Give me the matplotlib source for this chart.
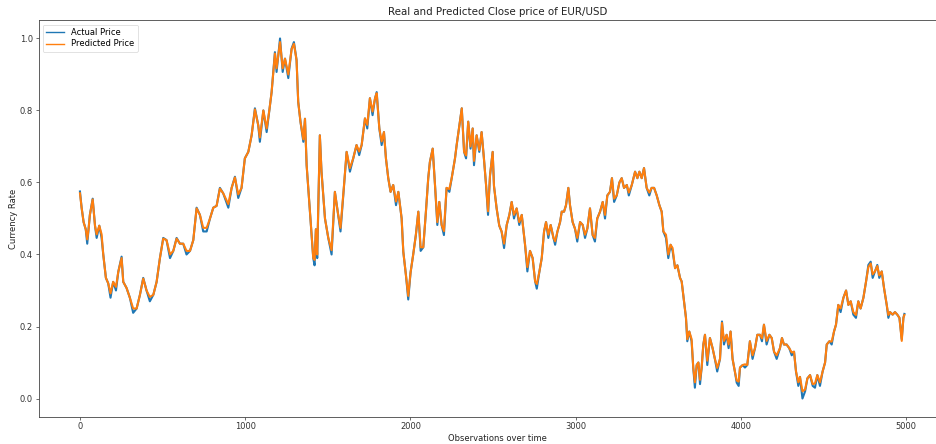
import matplotlib
matplotlib.use("Agg")
import matplotlib.pyplot as plt

obs = [0, 10, 22, 35, 44, 52, 60, 77, 91, 101, 117, 131, 141, 157, 171, 185, 201, 218, 232, 252,
       262, 282, 302, 322, 343, 363, 383, 403, 423, 444, 464, 484, 504, 524, 545, 565, 585, 605, 625, 645,
       666, 686, 706, 726, 746, 767, 787, 807, 827, 847, 867, 898, 918, 938, 958, 978, 998, 1019, 1039, 1059,
       1079, 1089, 1110, 1130, 1146, 1160, 1180, 1190, 1211, 1227, 1241, 1261, 1281, 1295, 1311, 1321, 1335, 1352, 1362, 1372,
       1386, 1398, 1412, 1420, 1428, 1436, 1452, 1462, 1483, 1503, 1523, 1543, 1563, 1577, 1597, 1614, 1634, 1654, 1674, 1690,
       1705, 1725, 1739, 1755, 1771, 1786, 1796, 1812, 1826, 1840, 1852, 1866, 1880, 1896, 1913, 1927, 1947, 1957, 1973, 1987,
       2001, 2017, 2033, 2048, 2062, 2078, 2094, 2108, 2118, 2135, 2149, 2163, 2175, 2189, 2203, 2219, 2236, 2250, 2270, 2280,
       2297, 2311, 2325, 2337, 2350, 2364, 2377, 2385, 2401, 2417, 2431, 2445, 2458, 2470, 2482, 2498, 2506, 2522, 2538, 2552,
       2567, 2583, 2599, 2613, 2627, 2643, 2659, 2674, 2694, 2708, 2724, 2740, 2755, 2765, 2781, 2795, 2809, 2821, 2835, 2849,
       2866, 2876, 2890, 2906, 2916, 2930, 2942, 2956, 2966, 2982, 2996, 3010, 3027, 3043, 3057, 3071, 3087, 3103, 3117, 3131,
       3148, 3164, 3178, 3192, 3208, 3220, 3233, 3249, 3265, 3279, 3293, 3310, 3322, 3340, 3360, 3374, 3386, 3400, 3414, 3430,
       3446, 3460, 3475, 3491, 3507, 3521, 3531, 3547, 3561, 3575, 3587, 3602, 3616, 3632, 3642, 3656, 3668, 3676, 3688, 3702,
       3712, 3722, 3733, 3743, 3753, 3763, 3773, 3783, 3797, 3813, 3829, 3843, 3857, 3874, 3886, 3898, 3914, 3926, 3938, 3950,
       3964, 3975, 3987, 3995, 4011, 4025, 4039, 4055, 4071, 4086, 4100, 4116, 4128, 4140, 4156, 4173, 4187, 4201, 4217, 4237,
       4249, 4261, 4277, 4293, 4308, 4322, 4334, 4348, 4358, 4373, 4389, 4403, 4419, 4435, 4449, 4463, 4479, 4495, 4510, 4520,
       4536, 4550, 4564, 4576, 4590, 4604, 4621, 4637, 4651, 4665, 4681, 4697, 4711, 4725, 4742, 4758, 4772, 4786, 4798, 4812,
       4826, 4838, 4853, 4867, 4883, 4893, 4903, 4919, 4933, 4947, 4960, 4974, 4984, 4990]

actual = [0.575, 0.53, 0.49, 0.47, 0.43, 0.47, 0.51, 0.555, 0.48, 0.446, 0.48, 0.446, 0.40, 0.335, 0.32, 0.28, 0.324, 0.30, 0.352, 0.394,
          0.324, 0.307, 0.28, 0.238, 0.25, 0.288, 0.335, 0.30, 0.27, 0.288, 0.324, 0.39, 0.446, 0.44, 0.39, 0.41, 0.446, 0.43, 0.43, 0.40,
          0.41, 0.44, 0.53, 0.51, 0.464, 0.464, 0.50, 0.53, 0.535, 0.585, 0.57, 0.53, 0.585, 0.616, 0.557, 0.585, 0.667, 0.685, 0.731, 0.806,
          0.759, 0.713, 0.80, 0.74, 0.80, 0.851, 0.962, 0.907, 1.0, 0.907, 0.944, 0.89, 0.972, 0.99, 0.94, 0.824, 0.768, 0.713, 0.777, 0.648,
          0.557, 0.482, 0.39, 0.37, 0.47, 0.39, 0.731, 0.63, 0.50, 0.446, 0.40, 0.574, 0.51, 0.464, 0.585, 0.685, 0.63, 0.667, 0.704, 0.676,
          0.704, 0.778, 0.75, 0.834, 0.787, 0.834, 0.851, 0.75, 0.704, 0.74, 0.667, 0.612, 0.574, 0.593, 0.537, 0.574, 0.50, 0.408, 0.343, 0.275,
          0.35, 0.40, 0.454, 0.519, 0.41, 0.42, 0.519, 0.612, 0.657, 0.694, 0.593, 0.482, 0.546, 0.482, 0.454, 0.585, 0.574, 0.612, 0.667, 0.704,
          0.759, 0.806, 0.685, 0.667, 0.769, 0.694, 0.75, 0.648, 0.731, 0.685, 0.74, 0.667, 0.593, 0.51, 0.62, 0.685, 0.59, 0.528, 0.48, 0.464,
          0.418, 0.482, 0.51, 0.546, 0.50, 0.528, 0.482, 0.51, 0.427, 0.353, 0.41, 0.39, 0.325, 0.305, 0.353, 0.39, 0.464, 0.49, 0.446, 0.482,
          0.446, 0.427, 0.464, 0.49, 0.519, 0.519, 0.537, 0.585, 0.537, 0.49, 0.472, 0.436, 0.49, 0.482, 0.446, 0.472, 0.528, 0.454, 0.436, 0.50,
          0.519, 0.546, 0.50, 0.564, 0.574, 0.612, 0.546, 0.564, 0.60, 0.612, 0.585, 0.593, 0.564, 0.593, 0.63, 0.612, 0.63, 0.612, 0.64, 0.585,
          0.564, 0.585, 0.585, 0.564, 0.537, 0.519, 0.464, 0.446, 0.39, 0.427, 0.41, 0.362, 0.37, 0.335, 0.325, 0.27, 0.224, 0.159, 0.186, 0.159,
          0.086, 0.03, 0.093, 0.10, 0.04, 0.086, 0.15, 0.177, 0.093, 0.168, 0.14, 0.11, 0.075, 0.11, 0.214, 0.15, 0.177, 0.14, 0.186, 0.11,
          0.075, 0.044, 0.035, 0.086, 0.093, 0.086, 0.093, 0.159, 0.11, 0.14, 0.177, 0.177, 0.159, 0.205, 0.15, 0.177, 0.168, 0.13, 0.11, 0.14,
          0.168, 0.15, 0.15, 0.14, 0.12, 0.13, 0.075, 0.035, 0.06, 0.0, 0.02, 0.056, 0.065, 0.035, 0.03, 0.065, 0.035, 0.075, 0.10, 0.15,
          0.159, 0.15, 0.186, 0.205, 0.26, 0.24, 0.28, 0.30, 0.26, 0.27, 0.233, 0.224, 0.27, 0.25, 0.28, 0.325, 0.371, 0.38, 0.335, 0.353,
          0.371, 0.335, 0.353, 0.306, 0.26, 0.224, 0.24, 0.233, 0.24, 0.233, 0.224, 0.165, 0.224, 0.235]

predicted = [0.57, 0.53, 0.49, 0.47, 0.442, 0.47, 0.51, 0.553, 0.48, 0.456, 0.48, 0.456, 0.40, 0.335, 0.32, 0.292, 0.324, 0.31, 0.352, 0.39,
             0.324, 0.307, 0.28, 0.25, 0.25, 0.288, 0.333, 0.30, 0.282, 0.288, 0.324, 0.39, 0.444, 0.44, 0.40, 0.41, 0.444, 0.43, 0.43, 0.41,
             0.41, 0.44, 0.528, 0.51, 0.474, 0.474, 0.50, 0.53, 0.535, 0.583, 0.57, 0.54, 0.585, 0.614, 0.567, 0.585, 0.667, 0.685, 0.731, 0.803,
             0.759, 0.725, 0.80, 0.75, 0.80, 0.851, 0.958, 0.917, 0.99, 0.917, 0.944, 0.90, 0.97, 0.985, 0.94, 0.824, 0.768, 0.72, 0.777, 0.648,
             0.557, 0.482, 0.39, 0.385, 0.47, 0.40, 0.731, 0.63, 0.50, 0.446, 0.412, 0.574, 0.51, 0.474, 0.585, 0.685, 0.64, 0.667, 0.704, 0.686,
             0.704, 0.778, 0.76, 0.834, 0.797, 0.834, 0.848, 0.75, 0.714, 0.74, 0.667, 0.612, 0.574, 0.593, 0.547, 0.574, 0.50, 0.408, 0.343, 0.285,
             0.35, 0.40, 0.454, 0.519, 0.42, 0.42, 0.519, 0.612, 0.657, 0.694, 0.593, 0.49, 0.546, 0.482, 0.465, 0.585, 0.582, 0.612, 0.667, 0.704,
             0.759, 0.806, 0.685, 0.675, 0.769, 0.70, 0.75, 0.66, 0.731, 0.69, 0.74, 0.667, 0.593, 0.52, 0.62, 0.685, 0.59, 0.528, 0.48, 0.464,
             0.43, 0.482, 0.51, 0.546, 0.51, 0.528, 0.49, 0.51, 0.427, 0.365, 0.41, 0.39, 0.325, 0.318, 0.353, 0.39, 0.464, 0.49, 0.455, 0.482,
             0.446, 0.437, 0.464, 0.49, 0.519, 0.519, 0.537, 0.585, 0.537, 0.49, 0.472, 0.446, 0.49, 0.482, 0.455, 0.472, 0.528, 0.454, 0.446, 0.50,
             0.519, 0.546, 0.51, 0.564, 0.574, 0.612, 0.555, 0.564, 0.60, 0.612, 0.585, 0.593, 0.572, 0.593, 0.63, 0.612, 0.63, 0.612, 0.64, 0.585,
             0.572, 0.585, 0.585, 0.564, 0.537, 0.519, 0.464, 0.455, 0.40, 0.427, 0.418, 0.362, 0.37, 0.335, 0.325, 0.27, 0.224, 0.165, 0.186, 0.165,
             0.086, 0.045, 0.093, 0.10, 0.052, 0.086, 0.15, 0.177, 0.105, 0.168, 0.14, 0.11, 0.085, 0.11, 0.21, 0.16, 0.177, 0.15, 0.186, 0.11,
             0.075, 0.05, 0.047, 0.086, 0.093, 0.095, 0.093, 0.159, 0.12, 0.14, 0.177, 0.177, 0.167, 0.205, 0.16, 0.177, 0.168, 0.13, 0.12, 0.14,
             0.168, 0.15, 0.15, 0.14, 0.128, 0.13, 0.075, 0.045, 0.06, 0.02, 0.025, 0.056, 0.065, 0.04, 0.042, 0.065, 0.045, 0.075, 0.10, 0.15,
             0.159, 0.158, 0.186, 0.205, 0.26, 0.25, 0.28, 0.30, 0.26, 0.27, 0.24, 0.232, 0.27, 0.25, 0.28, 0.325, 0.365, 0.375, 0.345, 0.353,
             0.368, 0.342, 0.353, 0.306, 0.26, 0.232, 0.24, 0.233, 0.24, 0.233, 0.224, 0.16, 0.224, 0.232]

title = "Real and Predicted Close price of EUR/USD"
xlabel = "Observations over time"
ylabel = "Currency Rate"
series_labels = ["Actual Price", "Predicted Price"]

plt.rcParams['font.family'] = ['DejaVu Sans']
fs = 6.0
fig = plt.figure(figsize=(9.36, 4.44), dpi=100)
# axes extends past the right edge of the canvas, as in the cropped reference
ax = fig.add_axes([0.0413, 0.0619, 0.98, 0.892])

ax.plot(obs, actual, color='#1f77b4', lw=1.5, label=series_labels[0])
ax.plot(obs, predicted, color='#ff7f0e', lw=1.5, label=series_labels[1])

ax.set_xlim(-250, 5302)
ax.set_ylim(-0.05, 1.05)
ax.set_xticks([0, 1000, 2000, 3000, 4000, 5000])
ax.set_yticks([0.0, 0.2, 0.4, 0.6, 0.8, 1.0])

ax.set_title(title, fontsize=7.4, pad=4, color='#222222')
ax.set_xlabel(xlabel, fontsize=fs, labelpad=2, color='#222222')
ax.set_ylabel(ylabel, fontsize=fs, labelpad=1.5, color='#222222')
ax.tick_params(labelsize=fs, length=2, width=0.5, pad=2, colors='#333333')
for s in ax.spines.values():
    s.set_linewidth(0.6)
    s.set_color('#444444')

leg = ax.legend(loc='upper left', fontsize=fs, handlelength=2.2, borderpad=0.4,
                labelspacing=0.3, frameon=True, fancybox=True)
leg.get_frame().set_linewidth(0.5)
for l in leg.get_lines():
    l.set_linewidth(1.0)

fig.savefig('out.png', dpi=100)
